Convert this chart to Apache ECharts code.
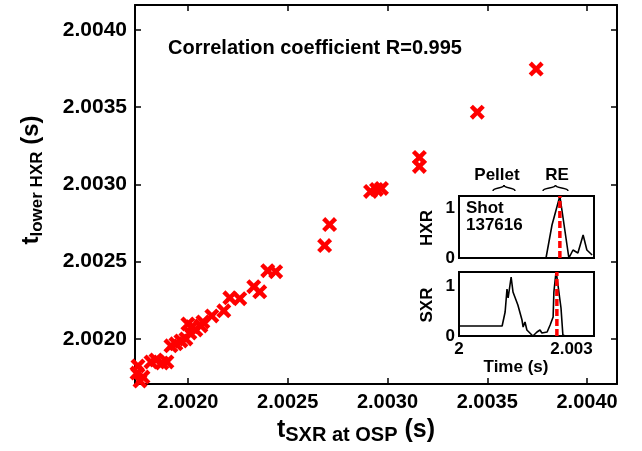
<!DOCTYPE html>
<html>
<head>
<meta charset="utf-8">
<script src="https://cdn.jsdelivr.net/npm/echarts@6/dist/echarts.min.js"></script>
<style>html,body{margin:0;padding:0;background:#fff}#c{width:642px;height:451px}</style>
</head>
<body>
<div id="c"></div>
<script>
// ---- main scatter data ----
const tSXR = [2.001745, 2.00176, 2.001775, 2.00175, 2.001815, 2.00184, 2.00187, 2.001895, 2.001915, 2.00194, 2.001965, 2.00199, 2.00200, 2.00201, 2.00202, 2.00204, 2.002065, 2.002075, 2.00212, 2.00218, 2.00221, 2.00226, 2.00233, 2.00236, 2.00240, 2.00244, 2.002685, 2.00271, 2.002915, 2.002945, 2.00297, 2.00316, 2.00316, 2.00345, 2.003745];
const tHXR = [2.001779, 2.001727, 2.001753, 2.001825, 2.001851, 2.001864, 2.001844, 2.001851, 2.001955, 2.001968, 2.001987, 2.00200, 2.002097, 2.002039, 2.002078, 2.002058, 2.002084, 2.00211, 2.002149, 2.002182, 2.002266, 2.00226, 2.002338, 2.002305, 2.002442, 2.002435, 2.002604, 2.00274, 2.002955, 2.002968, 2.002974, 2.003175, 2.003117, 2.003468, 2.003747];
const mainTicks = [2.0020, 2.0025, 2.0030, 2.0035, 2.0040];

// ---- inset data ----
const hxrTime = [2.0000, 2.00232, 2.00248, 2.00269, 2.00293, 2.00304, 2.00317, 2.00331, 2.00341, 2.00355];
const hxrValue = [0, 0, 0.66, 1.24, 0, 0.16, 0.10, 0.46, 0.16, 0.06];
const sxrTime = [2.0000, 2.00115, 2.00123, 2.00128, 2.00131, 2.00139, 2.00144, 2.00149, 2.00157, 2.00168, 2.00171, 2.00176, 2.00181, 2.00189, 2.00197, 2.00208, 2.00216, 2.00221, 2.00235, 2.00243, 2.00251, 2.00253, 2.00259, 2.00264, 2.00272, 2.00277, 2.00283, 2.0036];
const sxrValue = [0.2, 0.2, 0.48, 0.94, 0.76, 1.18, 0.88, 0.92, 0.62, 0.32, 0.18, 0.28, 0.12, 0.06, 0, 0.08, 0.12, 0.06, 0.08, 0.22, 0.38, 0.88, 1.3, 1.3, 0.56, 0.02, 0, 0];
const hxrMarker = 2.00269;
const sxrMarker = 2.00261;
const hxrMax = 1.24;
const sxrMax = 1.28;
const insetYTicks = [0.25, 0.5, 0.75, 1];
const insetYLabels = [0, 1];
const insetXTicks = [2.0012, 2.00253];
const insetXLabels = [2.000, 2.003];

const FF = '"Liberation Sans", Arial, Helvetica, sans-serif';
const X_PATH = 'path://M2.5,0 L6,3.5 L9.5,0 L12,2.5 L8.5,6 L12,9.5 L9.5,12 L6,8.5 L2.5,12 L0,9.5 L3.5,6 L0,2.5 Z';

const chart = echarts.init(document.getElementById('c'), null, {renderer: 'canvas'});

const lineAx = {show: true, lineStyle: {color: '#000', width: 2}};
function mainX(pos, labels) {
  return {
    type: 'value', gridIndex: 0, position: pos, min: 2.001735, max: 2.00415,
    axisLine: Object.assign({onZero: false}, lineAx),
    axisTick: {show: true, inside: true, length: 6, lineStyle: {color: '#000', width: 1.5}, customValues: mainTicks},
    axisLabel: {show: labels, customValues: mainTicks, margin: 8, color: '#000', fontFamily: FF, fontWeight: 'bold', fontSize: 20,
      formatter: v => v.toFixed(4)},
    splitLine: {show: false}
  };
}
function mainY(pos, labels) {
  return {
    type: 'value', gridIndex: 0, position: pos, min: 2.001708, max: 2.004162,
    axisLine: Object.assign({onZero: false}, lineAx),
    axisTick: {show: true, inside: true, length: 6, lineStyle: {color: '#000', width: 1.5}, customValues: mainTicks},
    axisLabel: {show: labels, customValues: mainTicks, margin: 8, color: '#000', fontFamily: FF, fontWeight: 'bold', fontSize: 21,
      formatter: v => v.toFixed(4)},
    splitLine: {show: false}
  };
}
function insetX(g, labels) {
  return {
    type: 'value', gridIndex: g, min: 2.0000, max: 2.0036, position: 'bottom',
    axisLine: Object.assign({onZero: false}, lineAx),
    axisTick: {show: true, inside: true, length: 4, lineStyle: {color: '#000', width: 1.2}, customValues: insetXTicks},
    axisLabel: {show: labels, customValues: insetXLabels, margin: 5, color: '#000', fontFamily: FF, fontWeight: 'bold', fontSize: 17,
      formatter: v => (Math.abs(v - 2) < 1e-9 ? '2' : v.toFixed(3))},
    splitLine: {show: false}
  };
}
function insetY(g, pos, labels, max) {
  return {
    type: 'value', gridIndex: g, min: 0, max: max, position: pos,
    axisLine: Object.assign({onZero: false}, lineAx),
    axisTick: {show: true, inside: true, length: 4, lineStyle: {color: '#000', width: 1.2}, customValues: insetYTicks},
    axisLabel: {show: labels, customValues: insetYLabels, margin: 4, color: '#000', fontFamily: FF, fontWeight: 'bold', fontSize: 17},
    splitLine: {show: false}
  };
}

function txt(x, y, text, size, align, rot) {
  return {type: 'text', x: x, y: y, rotation: rot || 0, z: 100,
    style: {text: text, x: 0, y: 0, fill: '#000', font: 'bold ' + size + 'px ' + FF,
      align: align || 'center', verticalAlign: 'middle'}};
}
function brace(x0, x1, y) {
  const m = (x0 + x1) / 2;
  const st = {fill: 'none', stroke: '#000', lineWidth: 1.5};
  return [
    {type: 'bezierCurve', z: 100, shape: {x1: x0, y1: y + 3, cpx1: x0, cpy1: y - 1, cpx2: m, cpy2: y + 1, x2: m, y2: y - 3}, style: st},
    {type: 'bezierCurve', z: 100, shape: {x1: x1, y1: y + 3, cpx1: x1, cpy1: y - 1, cpx2: m, cpy2: y + 1, x2: m, y2: y - 3}, style: st}
  ];
}

const option = {
  animation: false,
  backgroundColor: '#fff',
  grid: [
    {left: 135, top: 5, width: 482, height: 379, show: false},
    {left: 459, top: 196, width: 135, height: 62, show: true, backgroundColor: '#fff', borderColor: '#000', borderWidth: 2, z: 5},
    {left: 459, top: 272, width: 135, height: 64, show: true, backgroundColor: '#fff', borderColor: '#000', borderWidth: 2, z: 5}
  ],
  xAxis: [
    mainX('bottom', true),
    mainX('top', false),
    insetX(1, false),
    insetX(2, true)
  ],
  yAxis: [
    mainY('left', true),
    mainY('right', false),
    insetY(1, 'left', true, hxrMax),
    insetY(1, 'right', false, hxrMax),
    insetY(2, 'left', true, sxrMax),
    insetY(2, 'right', false, sxrMax)
  ],
  series: [
    {
      type: 'scatter', xAxisIndex: 0, yAxisIndex: 0,
      data: tSXR.map((x, i) => [x, tHXR[i]]),
      symbol: X_PATH, symbolSize: 15,
      itemStyle: {color: '#ff0000', opacity: 1}
    },
    {
      type: 'line', xAxisIndex: 2, yAxisIndex: 2, z: 10,
      data: hxrTime.map((t, i) => [t, hxrValue[i]]),
      showSymbol: false, symbol: 'none', lineStyle: {color: '#000', width: 1.6}
    },
    {
      type: 'line', xAxisIndex: 2, yAxisIndex: 2, z: 11,
      data: [[hxrMarker, 0], [hxrMarker, hxrMax]],
      showSymbol: false, symbol: 'none', lineStyle: {color: '#ff0000', type: [7, 3], width: 3.5}
    },
    {
      type: 'line', xAxisIndex: 3, yAxisIndex: 4, z: 10,
      data: sxrTime.map((t, i) => [t, sxrValue[i]]),
      showSymbol: false, symbol: 'none', lineStyle: {color: '#000', width: 1.6}
    },
    {
      type: 'line', xAxisIndex: 3, yAxisIndex: 4, z: 11,
      data: [[sxrMarker, 0], [sxrMarker, sxrMax]],
      showSymbol: false, symbol: 'none', lineStyle: {color: '#ff0000', type: [7, 3], width: 3.5}
    }
  ],
  graphic: [
    txt(168, 48, 'Correlation coefficient R=0.995', 20, 'left'),
    txt(497, 175, 'Pellet', 17),
    txt(557, 175, 'RE', 17),
    txt(466, 208, 'Shot', 17, 'left'),
    txt(466, 225, '137616', 17, 'left'),
    txt(427, 228, 'HXR', 17, 'center', Math.PI / 2),
    txt(427, 305, 'SXR', 17, 'center', Math.PI / 2),
    txt(516, 367, 'Time (s)', 17),
    ...brace(493, 515, 188),
    ...brace(543, 568, 188),
    {type: 'text', x: 31, y: 180, rotation: Math.PI / 2, z: 100,
      style: {text: '{m|t}{s|lower HXR}{m| (s)}', x: 0, y: 0, align: 'center', verticalAlign: 'middle', fill: '#000',
        rich: {
          m: {fontSize: 24, fontWeight: 'bold', fontFamily: FF, lineHeight: 30, verticalAlign: 'middle', fill: '#000'},
          s: {fontSize: 17, fontWeight: 'bold', fontFamily: FF, lineHeight: 17, verticalAlign: 'bottom', fill: '#000'}
        }}},
    {type: 'text', x: 356, y: 430, z: 100,
      style: {text: '{m|t}{s|SXR at OSP}{m| (s)}', x: 0, y: 0, align: 'center', verticalAlign: 'middle', fill: '#000',
        rich: {
          m: {fontSize: 25, fontWeight: 'bold', fontFamily: FF, lineHeight: 30, verticalAlign: 'middle', fill: '#000'},
          s: {fontSize: 20, fontWeight: 'bold', fontFamily: FF, lineHeight: 20, verticalAlign: 'bottom', fill: '#000'}
        }}}
  ]
};
chart.setOption(option);
</script>
</body>
</html>
